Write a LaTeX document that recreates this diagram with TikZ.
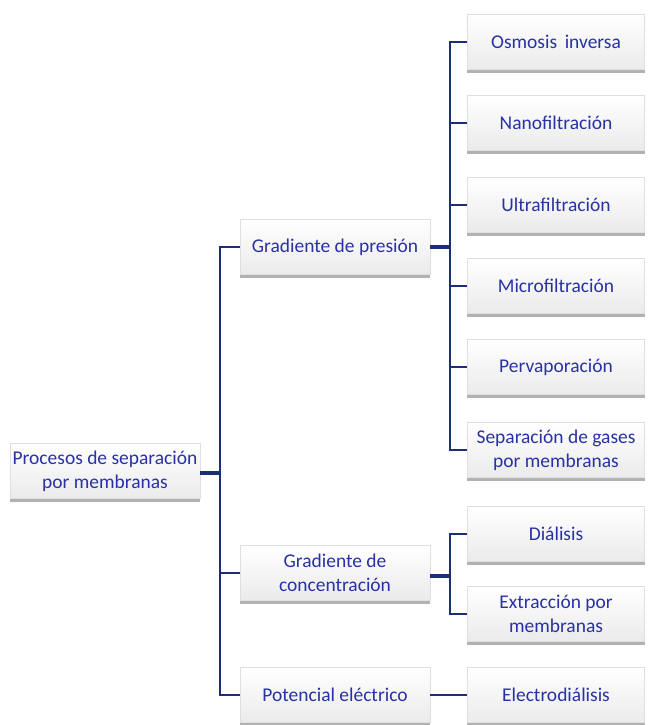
\documentclass[tikz,border=0pt]{standalone}
\usepackage{fontspec}
\setmainfont{Carlito}
\usetikzlibrary{shadows}

\begin{document}
\begin{tikzpicture}[x=0.75pt, y=-0.75pt, font=\fontsize{14.6}{18}\selectfont]

      % Colors: text blue and connector navy
      \definecolor{textblue}{RGB}{40,50,165}
      \definecolor{linenavy}{RGB}{28,46,120}

      % box and connector styles
      \tikzset{
        procbox/.style={shape=rectangle, align=center, text=textblue,
          minimum width=142.5pt, minimum height=41pt, inner sep=2pt,
          top color=white, bottom color=gray!16, draw=gray!25, line width=0.4pt,
          drop shadow={shadow xshift=0pt, shadow yshift=-2.4pt, fill=gray!75, opacity=0.8}},
        leafbox/.style={procbox, minimum width=133pt},
        link/.style={draw=linenavy, line width=1.5pt},
        stub/.style={draw=linenavy, line width=2.6pt}
      }

      % fixes the page size
      \useasboundingbox (0,0) rectangle (649,725);

      % --- root ---
      \node[procbox] (root) at (105,471) {Procesos de separación\\por membranas};

      % --- second level ---
      \node[procbox] (pres) at (335,247) {Gradiente de presión};
      \node[procbox] (conc) at (335,573) {Gradiente de\\concentración};
      \node[procbox] (pot)  at (335,695) {Potencial eléctrico};

      % --- leaves: pressure ---
      \node[leafbox] (osm)  at (556,42)  {Osmosis\, inversa};
      \node[leafbox] (nano) at (556,123) {Nanofiltración};
      \node[leafbox] (ultra) at (556,205) {Ultrafiltración};
      \node[leafbox] (micro) at (556,286) {Microfiltración};
      \node[leafbox] (perv) at (556,367) {Pervaporación};
      \node[leafbox] (gas)  at (556,450) {Separación de gases\\por membranas};

      % --- leaves: concentration and electric ---
      \node[leafbox] (dial) at (556,534) {Diálisis};
      \node[leafbox] (extr) at (556,614) {Extracción por\\membranas};
      \node[leafbox] (elec) at (556,695) {Electrodiálisis};

      % join points
      \coordinate (rootjoin) at (220,473);
      \coordinate (presjoin) at (450,247);
      \coordinate (concjoin) at (450,576);

      % root to second level
      \draw[stub] (root.east |- rootjoin) -- (rootjoin);
      \draw[link] (pres.west) -| (rootjoin) |- (pot.west);
      \draw[link] (rootjoin) |- (conc.west);

      % pressure group
      \draw[stub] (pres.east) -- (presjoin);
      \draw[link] (osm.west) -| (presjoin) |- (gas.west);
      \foreach \leaf in {nano,ultra,micro,perv}
        \draw[link] (presjoin) |- (\leaf.west);

      % concentration group
      \draw[stub] (conc.east |- concjoin) -- (concjoin);
      \draw[link] (dial.west) -| (concjoin) |- (extr.west);

      % electric potential
      \draw[link] (pot.east) -- (elec.west);

    \end{tikzpicture}
\end{document}
